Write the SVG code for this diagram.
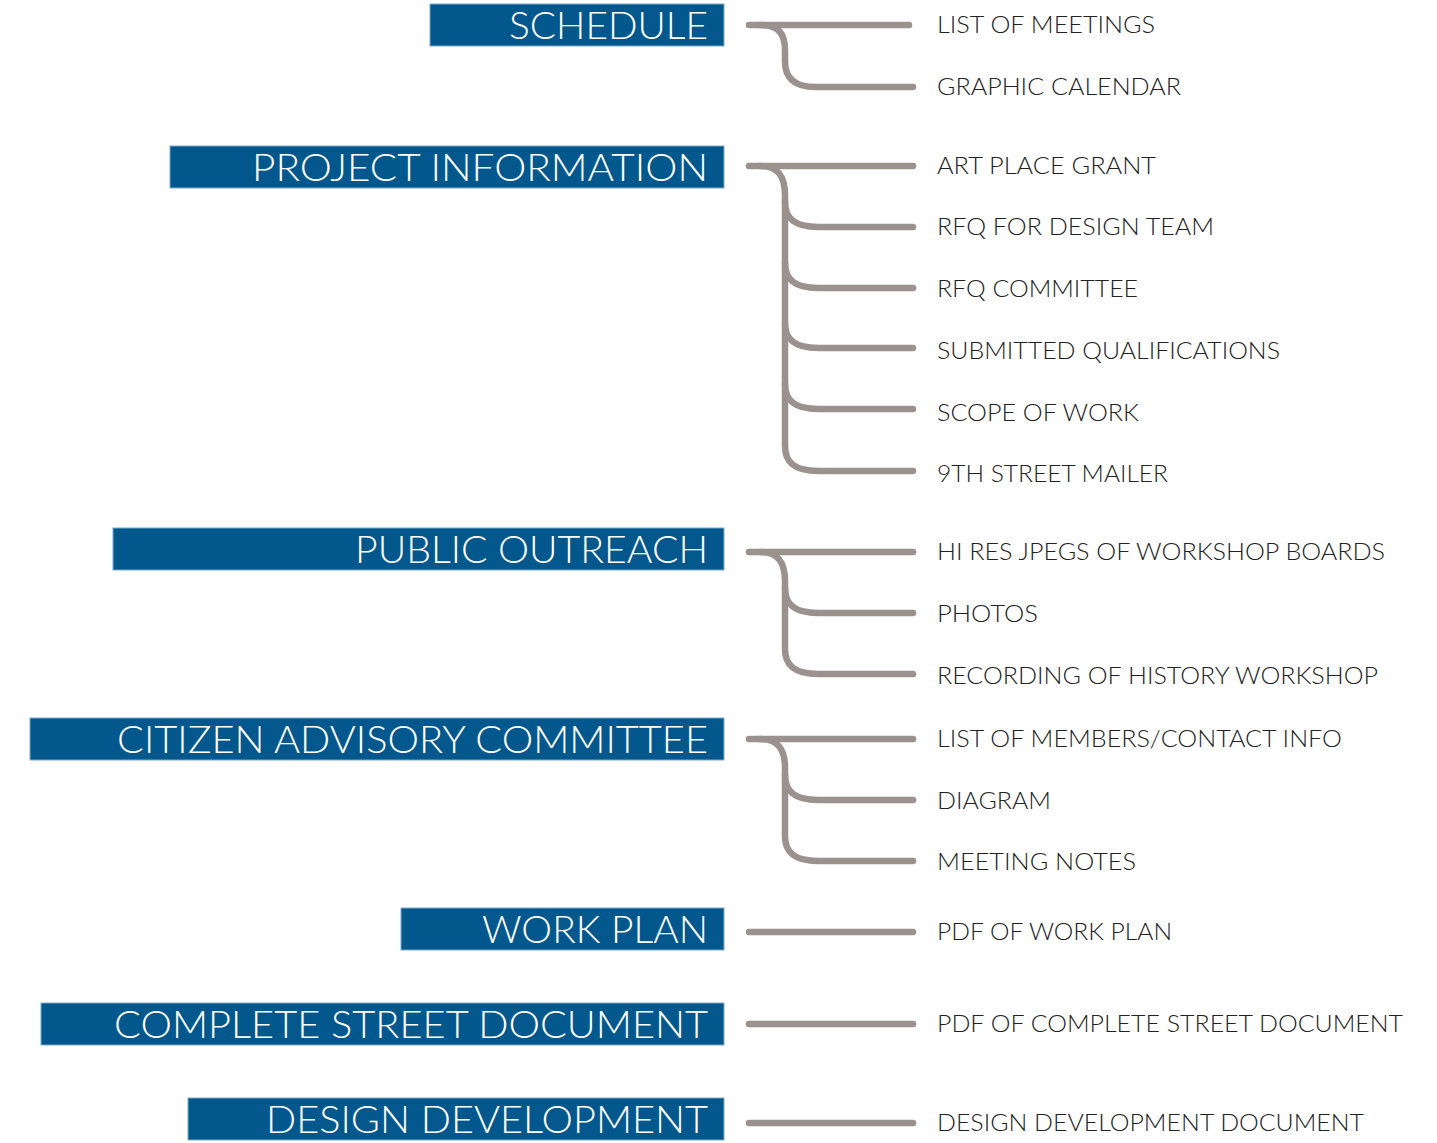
<svg xmlns="http://www.w3.org/2000/svg" width="1437" height="1143" viewBox="0 0 1437 1143">
<style>
.box{fill:#02588c;stroke:#7fa9c7;stroke-width:1}
.h{font-family:Lato,"Liberation Sans",sans-serif;font-weight:300;font-size:37px;fill:#ffffff;text-anchor:end}
.t{font-family:Lato,"Liberation Sans",sans-serif;font-weight:300;font-size:23px;fill:#222222}
.c{fill:none;stroke:#9b918f;stroke-width:6.5;stroke-linecap:round;stroke-linejoin:round}
</style>
<rect width="1437" height="1143" fill="#ffffff"/>
<g id="connectors">
<path class="c" d="M749,25 L909,25"/>
<path class="c" d="M760,25 C778,25 785,33 785,50 L785,62 C785,78 795,87 815,87 L913,87"/>
<path class="c" d="M749,166 L913,166"/>
<path class="c" d="M760,166 C778,166 785,176 785,195 L785,446 C785,463 795,471 818,471 L913,471"/>
<path class="c" d="M785,202 C785,219 795,227 818,227 L913,227"/>
<path class="c" d="M785,263 C785,280 795,288 818,288 L913,288"/>
<path class="c" d="M785,323 C785,340 795,348 818,348 L913,348"/>
<path class="c" d="M785,384 C785,401 795,409 818,409 L913,409"/>
<path class="c" d="M749,552 L913,552"/>
<path class="c" d="M760,552 C778,552 785,562 785,581 L785,649 C785,666 795,674 818,674 L913,674"/>
<path class="c" d="M785,588 C785,605 795,613 818,613 L913,613"/>
<path class="c" d="M749,739 L913,739"/>
<path class="c" d="M760,739 C778,739 785,749 785,768 L785,836 C785,853 795,861 818,861 L913,861"/>
<path class="c" d="M785,775 C785,792 795,800 818,800 L913,800"/>
<path class="c" d="M749,932 L913,932"/>
<path class="c" d="M749,1024 L913,1024"/>
<path class="c" d="M749,1123 L913,1123"/>
</g>
<g id="schedule"><rect class="box" x="430" y="4" width="294" height="42"/><text class="h" x="708" y="39" textLength="199" lengthAdjust="spacingAndGlyphs">SCHEDULE</text></g>
<g id="project-information"><rect class="box" x="170" y="146" width="554" height="42"/><text class="h" x="708" y="181" textLength="456" lengthAdjust="spacingAndGlyphs">PROJECT INFORMATION</text></g>
<g id="public-outreach"><rect class="box" x="113" y="528" width="611" height="42"/><text class="h" x="708" y="563" textLength="353" lengthAdjust="spacingAndGlyphs">PUBLIC OUTREACH</text></g>
<g id="citizen-advisory-committee"><rect class="box" x="30" y="718" width="694" height="42"/><text class="h" x="708" y="753" textLength="591" lengthAdjust="spacingAndGlyphs">CITIZEN ADVISORY COMMITTEE</text></g>
<g id="work-plan"><rect class="box" x="401" y="908" width="323" height="42"/><text class="h" x="708" y="943" textLength="226" lengthAdjust="spacingAndGlyphs">WORK PLAN</text></g>
<g id="complete-street-document"><rect class="box" x="41" y="1003" width="683" height="42"/><text class="h" x="708" y="1038" textLength="594" lengthAdjust="spacingAndGlyphs">COMPLETE STREET DOCUMENT</text></g>
<g id="design-development"><rect class="box" x="188" y="1098" width="536" height="42"/><text class="h" x="708" y="1133" textLength="442" lengthAdjust="spacingAndGlyphs">DESIGN DEVELOPMENT</text></g>
<g id="list-of-meetings"><text class="t" x="937" y="33" textLength="218" lengthAdjust="spacingAndGlyphs">LIST OF MEETINGS</text></g>
<g id="graphic-calendar"><text class="t" x="937" y="95" textLength="244" lengthAdjust="spacingAndGlyphs">GRAPHIC CALENDAR</text></g>
<g id="art-place-grant"><text class="t" x="937" y="174" textLength="219" lengthAdjust="spacingAndGlyphs">ART PLACE GRANT</text></g>
<g id="rfq-design-team"><text class="t" x="937" y="235" textLength="277" lengthAdjust="spacingAndGlyphs">RFQ FOR DESIGN TEAM</text></g>
<g id="rfq-committee"><text class="t" x="937" y="297" textLength="201" lengthAdjust="spacingAndGlyphs">RFQ COMMITTEE</text></g>
<g id="submitted-qualifications"><text class="t" x="937" y="359" textLength="343" lengthAdjust="spacingAndGlyphs">SUBMITTED QUALIFICATIONS</text></g>
<g id="scope-of-work"><text class="t" x="937" y="421" textLength="202" lengthAdjust="spacingAndGlyphs">SCOPE OF WORK</text></g>
<g id="ninth-street-mailer"><text class="t" x="937" y="482" textLength="231" lengthAdjust="spacingAndGlyphs">9TH STREET MAILER</text></g>
<g id="hi-res-jpegs"><text class="t" x="937" y="560" textLength="448" lengthAdjust="spacingAndGlyphs">HI RES JPEGS OF WORKSHOP BOARDS</text></g>
<g id="photos"><text class="t" x="937" y="622" textLength="101" lengthAdjust="spacingAndGlyphs">PHOTOS</text></g>
<g id="recording"><text class="t" x="937" y="684" textLength="441" lengthAdjust="spacingAndGlyphs">RECORDING OF HISTORY WORKSHOP</text></g>
<g id="list-of-members"><text class="t" x="937" y="747" textLength="405" lengthAdjust="spacingAndGlyphs">LIST OF MEMBERS/CONTACT INFO</text></g>
<g id="diagram"><text class="t" x="937" y="809" textLength="114" lengthAdjust="spacingAndGlyphs">DIAGRAM</text></g>
<g id="meeting-notes"><text class="t" x="937" y="870" textLength="199" lengthAdjust="spacingAndGlyphs">MEETING NOTES</text></g>
<g id="pdf-work-plan"><text class="t" x="937" y="940" textLength="235" lengthAdjust="spacingAndGlyphs">PDF OF WORK PLAN</text></g>
<g id="pdf-complete-street"><text class="t" x="937" y="1032" textLength="466" lengthAdjust="spacingAndGlyphs">PDF OF COMPLETE STREET DOCUMENT</text></g>
<g id="design-development-document"><text class="t" x="937" y="1131" textLength="427" lengthAdjust="spacingAndGlyphs">DESIGN DEVELOPMENT DOCUMENT</text></g>
</svg>
